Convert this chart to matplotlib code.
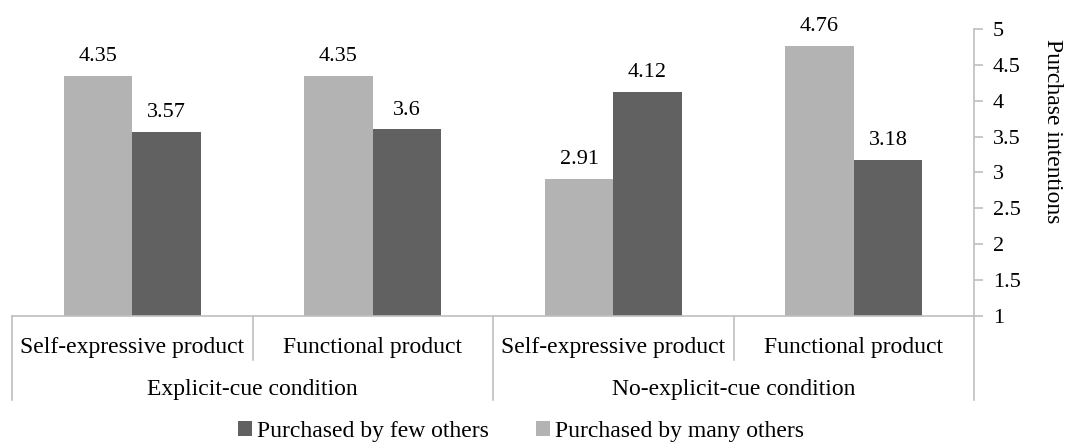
import numpy as np
import matplotlib.pyplot as plt

plt.rcParams['font.family'] = ['Liberation Serif', 'DejaVu Serif']

products = ['Self-expressive product', 'Functional product',
            'Self-expressive product', 'Functional product']
conditions = ['Explicit-cue condition', 'No-explicit-cue condition']
many_others = [4.35, 4.35, 2.91, 4.76]
few_others = [3.57, 3.6, 4.12, 3.18]
yticks = [1, 1.5, 2, 2.5, 3, 3.5, 4, 4.5, 5]

light = '#b3b3b3'
dark = '#616161'
grid_col = '#bfbfbf'
fs = 16
fs_big = 17

fig = plt.figure(figsize=(10.72, 4.45), dpi=100)
ax = fig.add_axes([0.0112, 0.29, 0.8975, 0.645])

x = np.arange(len(products))
w = 0.285
b1 = ax.bar(x - w / 2, np.array(many_others) - 1, w, bottom=1, color=light,
            label='Purchased by many others')
b2 = ax.bar(x + w / 2, np.array(few_others) - 1, w, bottom=1, color=dark,
            label='Purchased by few others')

for bars, vals in [(b1, many_others), (b2, few_others)]:
    for r, v in zip(bars, vals):
        ax.annotate(f'{v:g}', (r.get_x() + r.get_width() / 2, v),
                    xytext=(0, 7), textcoords='offset points',
                    ha='center', va='bottom', fontsize=fs)

ax.set_xlim(-0.5, 3.5)
ax.set_ylim(1, 5)
ax.set_yticks(yticks)
ax.set_yticklabels([f'{t:g}' for t in yticks])
ax.yaxis.tick_right()
ax.tick_params(axis='y', direction='out', length=6.5, width=1.2,
               color=grid_col, labelsize=fs, pad=7)
ax.set_xticks([])
for s in ['top', 'left']:
    ax.spines[s].set_visible(False)
for s in ['bottom', 'right']:
    ax.spines[s].set_color(grid_col)
    ax.spines[s].set_linewidth(1.2)

# multi-level category labels
tr = ax.get_xaxis_transform()
for i, p in enumerate(products):
    ax.text(i, -0.11, p, transform=tr, ha='center', va='center',
            fontsize=fs_big)
for j, c in enumerate(conditions):
    ax.text(2 * j + 0.5, -0.255, c, transform=tr, ha='center', va='center',
            fontsize=fs_big)
for xb in [-0.5, 1.5, 3.5]:
    ax.plot([xb, xb], [0, -0.293], transform=tr, color=grid_col, lw=1.2,
            clip_on=False)
for xb in [0.5, 2.5]:
    ax.plot([xb, xb], [0, -0.153], transform=tr, color=grid_col, lw=1.2,
            clip_on=False)

fig.text(0.982, 0.705, 'Purchase intentions', rotation=-90, ha='center',
         va='center', fontsize=fs_big)

fig.legend(handles=[b2, b1], loc='center', bbox_to_anchor=(0.486, 0.03),
           ncol=2, frameon=False, fontsize=fs_big, handlelength=0.6,
           handleheight=0.6, handletextpad=0.2, columnspacing=2.0)

fig.savefig('out.png', dpi=100)
